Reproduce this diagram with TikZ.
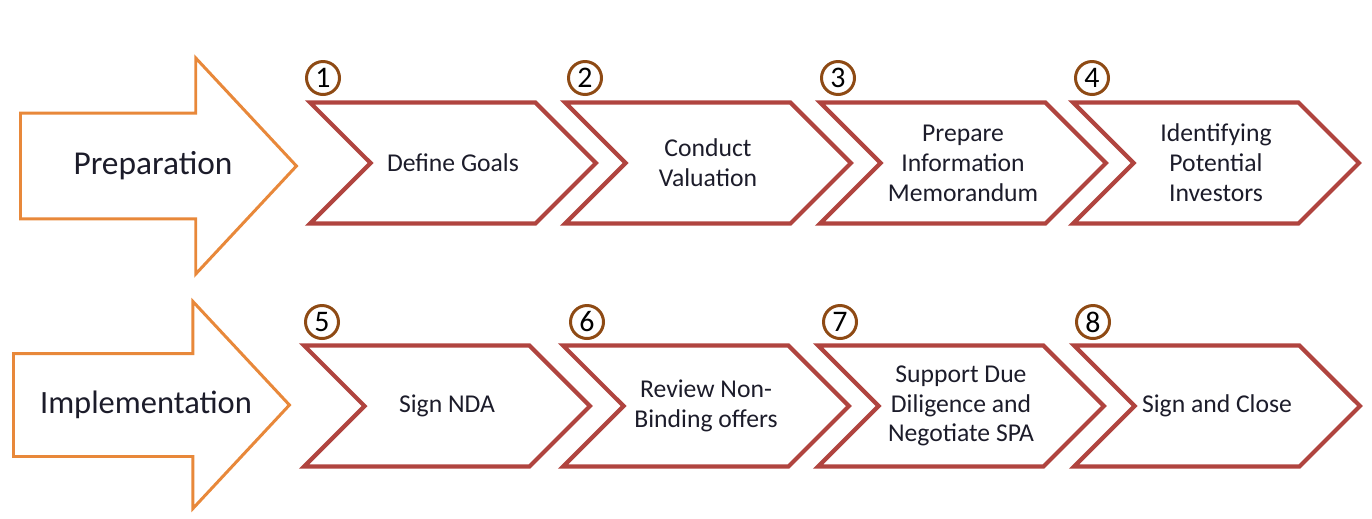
\documentclass[tikz,border=0pt]{standalone}
\usepackage{fontspec}
\setmainfont{Carlito}
\usetikzlibrary{shapes.symbols, shapes.arrows, positioning}
\definecolor{phaseorange}{HTML}{E8883A}
\definecolor{stepred}{HTML}{B0443F}
\definecolor{numbrown}{HTML}{8E4A14}
\definecolor{textdark}{HTML}{1C1C2A}
\tikzset{
    phase/.style={single arrow, draw=phaseorange, line width=1.7pt, fill=white, single arrow tip angle=94, inner xsep=0pt, anchor=tail},
    phaselabel/.style={inner sep=0pt, font=\fontsize{19}{22}\selectfont, text=textdark},
    stepbox/.style={signal, signal from=west, signal to=east, signal pointer angle=90, draw=stepred, line width=2.4pt, minimum width=5.72cm, minimum height=2.42cm, inner sep=0pt, align=center, font=\fontsize{14.6}{17}\selectfont, text=textdark},
    num/.style={circle, draw=numbrown, line width=1.7pt, minimum size=0.66cm, inner sep=0pt, font=\fontsize{17}{17}\selectfont, text=black}
}

\begin{document}
\begin{tikzpicture}[x=0.02cm, y=-0.02cm]
                        \useasboundingbox (0,0) rectangle (1372,518);
                        \node[phase, inner ysep=1.03cm, minimum width=4.26cm, minimum height=5.52cm, single arrow head extend=1.1cm] (prep) at (19,166) {};
                        \node[phase, inner ysep=1.0cm, minimum width=4.08cm, minimum height=5.52cm, single arrow head extend=1.04cm] (impl) at (12,405) {};
                        \node[phaselabel] (preptext) at (153,166) {Preparation};
                        \node[phaselabel, font=\fontsize{18.5}{22}\selectfont] (impltext) at (146,405) {Implementation};
                        \node[stepbox] (s1) at (453,163) {Define Goals};
                        \node[stepbox] (s2) at (708,163) {Conduct\\Valuation};
                        \node[stepbox] (s3) at (963,163) {Prepare\\Information\\Memorandum};
                        \node[stepbox] (s4) at (1216,163) {Identifying\\Potential\\Investors};
                        \node[stepbox] (s5) at (447,406) {Sign NDA};
                        \node[stepbox] (s6) at (706,406) {Review Non-\\Binding offers};
                        \node[stepbox] (s7) at (961,406) {Support Due\\Diligence and\\Negotiate SPA};
                        \node[stepbox] (s8) at (1217,406) {Sign and Close};
                        \node[num] (n1) at (323,78) {1};
                        \node[num] (n2) at (585,78) {2};
                        \node[num] (n3) at (838,78) {3};
                        \node[num] (n4) at (1092,78) {4};
                        \node[num] (n5) at (322,322) {5};
                        \node[num] (n6) at (587,322) {6};
                        \node[num] (n7) at (840,322) {7};
                        \node[num] (n8) at (1093,322) {8};
                    \end{tikzpicture}
\end{document}
